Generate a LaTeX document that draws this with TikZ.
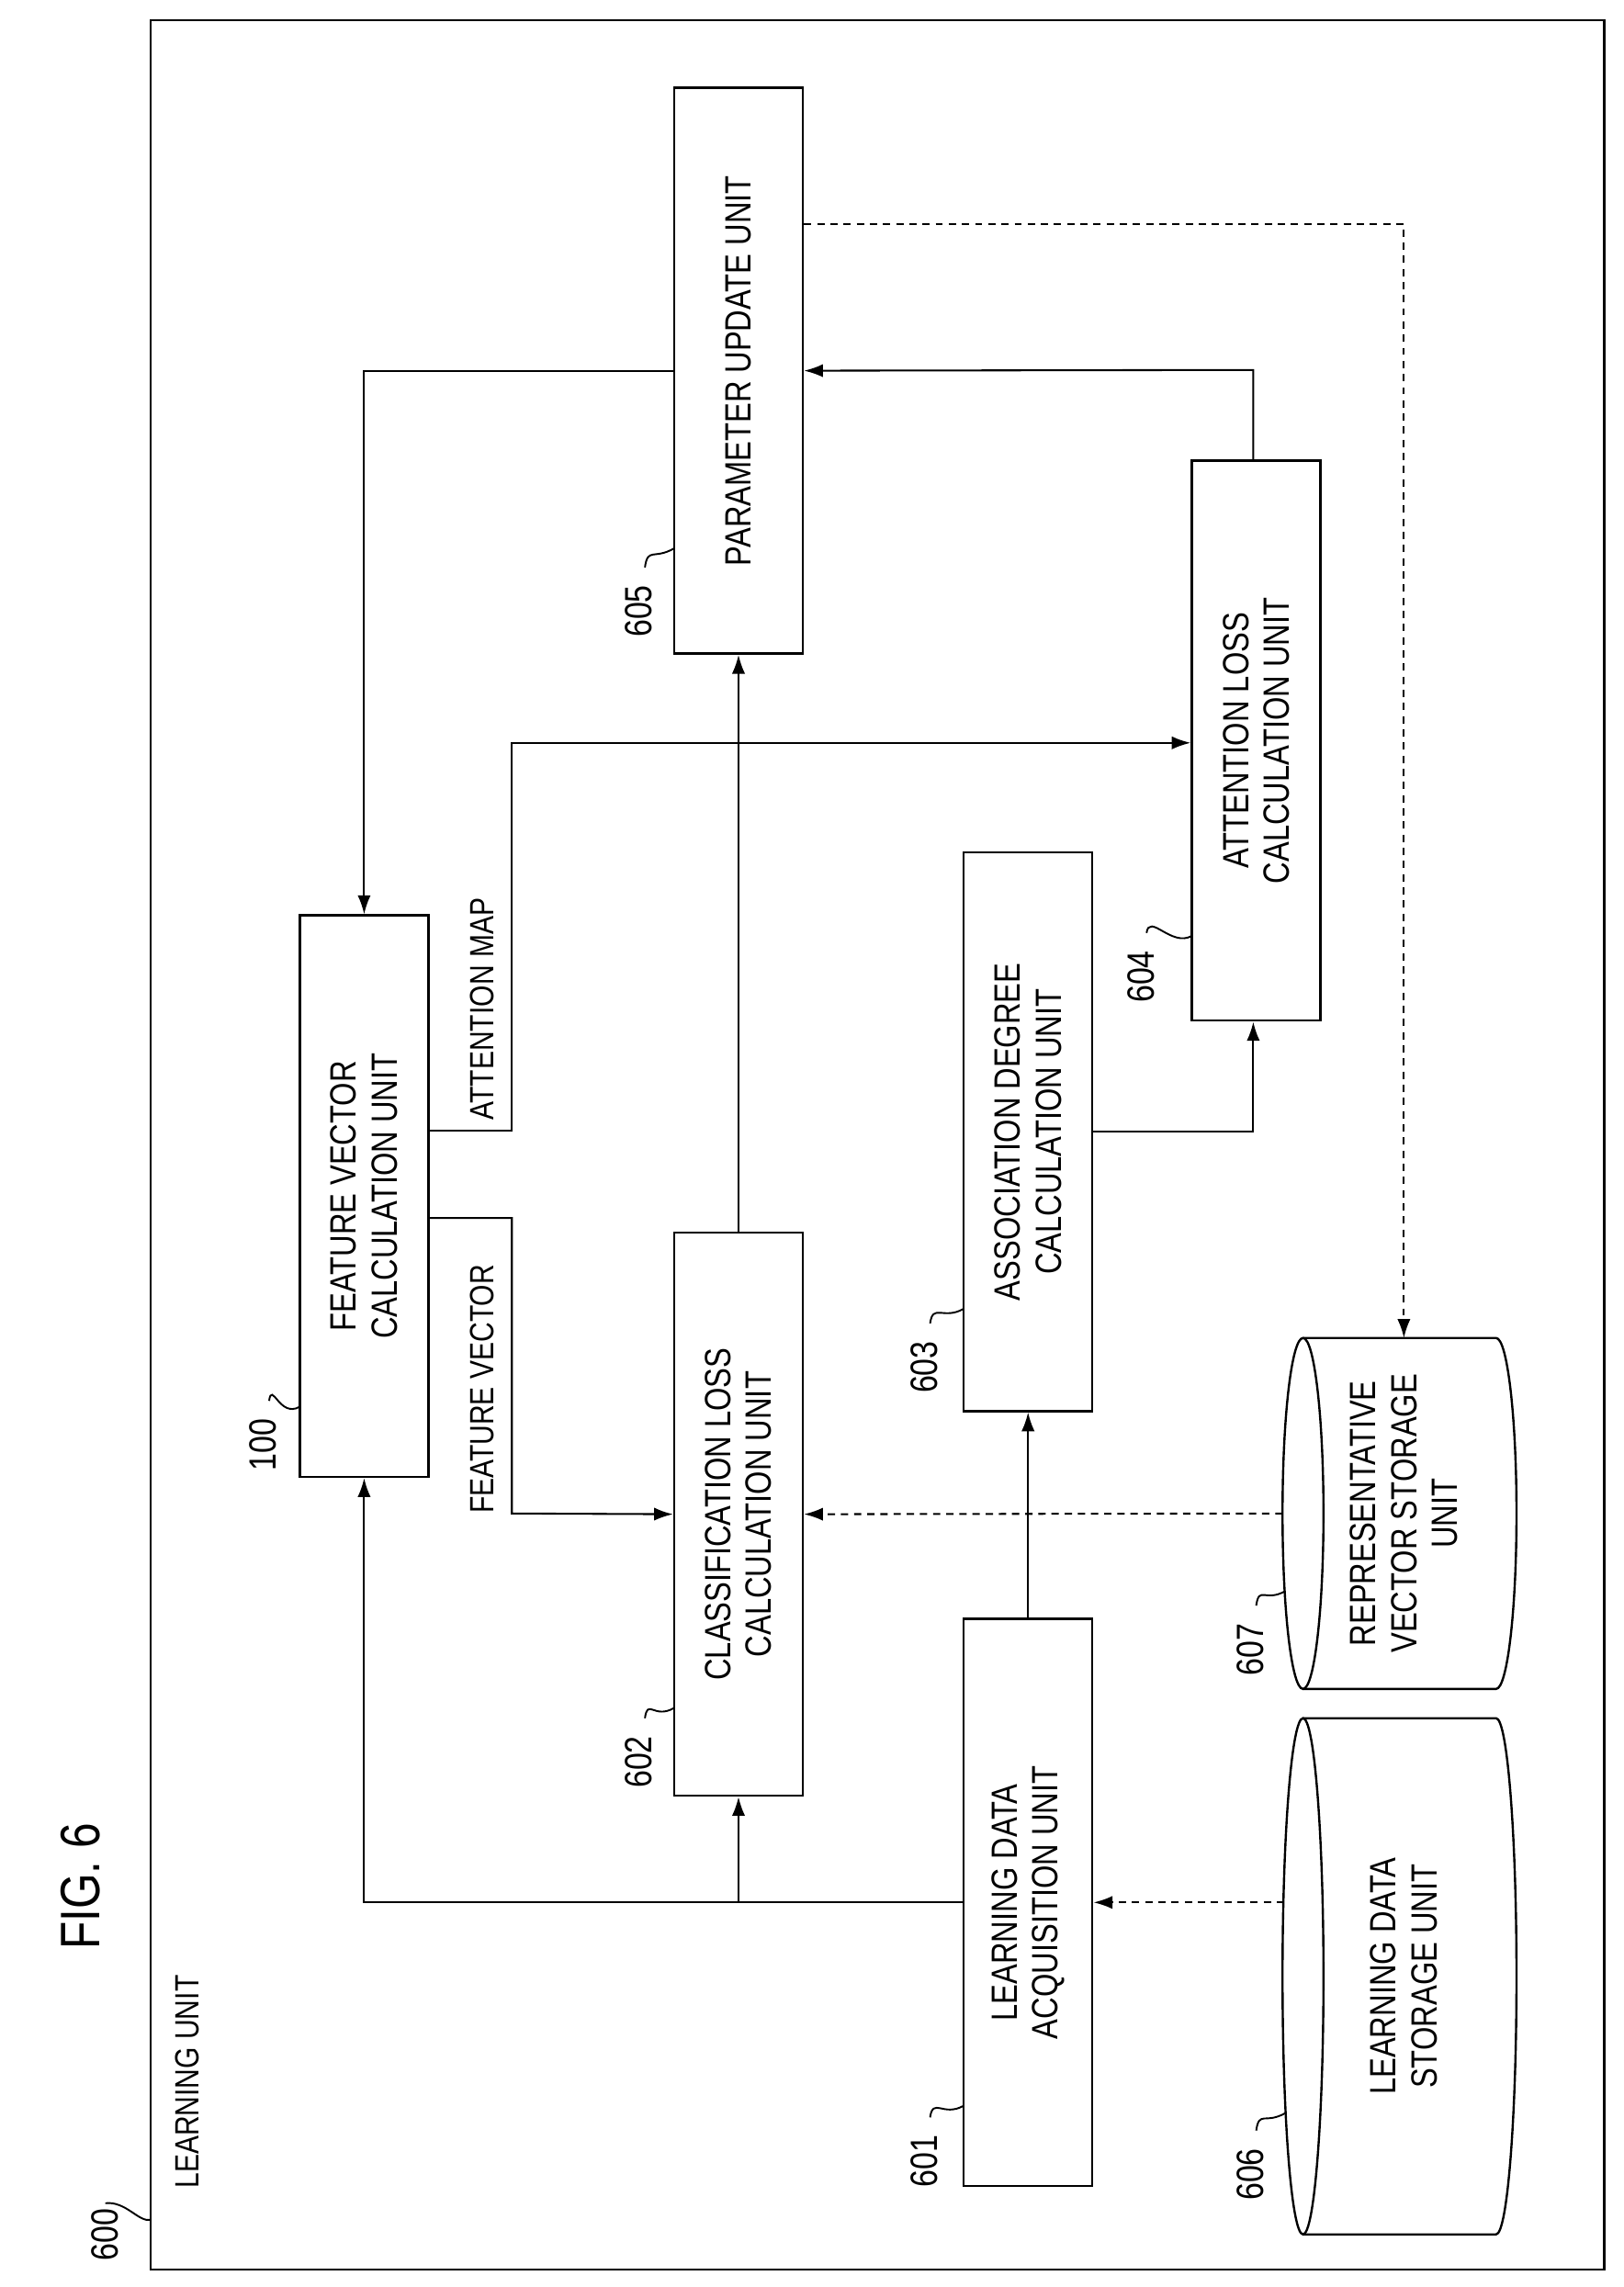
\documentclass[tikz,border=0pt]{standalone}
\usepackage{fontspec}
\setmainfont{Liberation Sans}[FakeStretch=0.82]
\usetikzlibrary{arrows.meta}
\begin{document}
\begin{tikzpicture}[x=1pt,y=-1pt,
  box/.style={draw,line width=1.5pt,inner sep=0pt},
  txt/.style={rotate=90,align=center,font=\fontsize{25}{28}\selectfont},
  lbl/.style={rotate=90,font=\fontsize{23}{26}\selectfont},
  num/.style={rotate=90,font=\fontsize{26}{28}\selectfont},
  ar/.style={line width=1.3pt,-{Latex[length=13pt,width=9pt]}},
  da/.style={ar,dash pattern=on 5pt off 4pt},
  lead/.style={line width=1.2pt}]
\useasboundingbox (0,0) rectangle (1110,1564);
\draw[line width=1.5pt] (103,14) rectangle (1097,1552);
\node[num] (n600) at (72,1528) {600};
\coordinate (f600) at (103,1518);
\draw[lead] (n600.east) .. controls (86,1505) and (95,1520) .. (f600);
\node[lbl,anchor=west] at (128,1500) {LEARNING UNIT};
\node[rotate=90,font=\fontsize{38}{40}\selectfont] at (55,1290) {FIG. 6};

% boxes
\node[box,minimum width=88pt,minimum height=387pt] (b605) at (505,253.5) {};
\node[txt] at (b605) {PARAMETER UPDATE UNIT};
\node[box,minimum width=88pt,minimum height=384pt] (b100) at (249,818) {};
\node[txt] at (b100) {FEATURE VECTOR\\CALCULATION UNIT};
\node[box,minimum width=88pt,minimum height=385pt] (b602) at (505,1035.5) {};
\node[txt] at (b602) {CLASSIFICATION LOSS\\CALCULATION UNIT};
\node[box,minimum width=88pt,minimum height=382pt] (b603) at (703,774) {};
\node[txt] at (b603) {ASSOCIATION DEGREE\\CALCULATION UNIT};
\node[box,minimum width=88pt,minimum height=383pt] (b604) at (859,506.5) {};
\node[txt] at (b604) {ATTENTION LOSS\\CALCULATION UNIT};
\node[box,minimum width=88pt,minimum height=388pt] (b601) at (703,1301) {};
\node[txt] at (b601) {LEARNING DATA\\ACQUISITION UNIT};

% cylinders
\foreach \n/\ya/\yb/\t in {c606/1175/1528/{LEARNING DATA\\STORAGE UNIT}, c607/915/1155/{REPRESENTATIVE\\VECTOR STORAGE\\UNIT}}{
  \pgfmathsetmacro\ym{(\ya+\yb)/2}
  \pgfmathsetmacro\ry{(\yb-\ya)/2}
  \pgfmathsetmacro\ka{\ym-0.552*\ry}
  \pgfmathsetmacro\kb{\ym+0.552*\ry}
  \draw[line width=1.5pt] (891,\ym) ellipse [x radius=14, y radius=\ry];
  \draw[line width=1.5pt] (891,\ya) -- (1023,\ya)
     .. controls (1030.7,\ya) and (1037,\ka) .. (1037,\ym)
     .. controls (1037,\kb) and (1030.7,\yb) .. (1023,\yb) -- (891,\yb);
  \node[txt] at (960,\ym) {\t};
  \coordinate (\n) at (877,\ym);
}
\coordinate (c607top) at (960,915);
\coordinate (c606out) at (878,1301);

% numbers
\foreach \nm/\x/\y/\bx/\by in {605/437/418/461/375, 100/180/988/205/962, 602/437/1205/461/1168, 603/632/935/659/895, 604/780/668/815/640, 601/632/1478/659/1440, 606/855/1487/879/1445, 607/855/1128/879/1088}{
  \node[num] (l\nm) at (\x,\y) {\nm};
  \coordinate (e\nm) at (\bx,\by);
  \draw[lead] (\x+4,\y-30) .. controls (\x+6,\y-44) and (\bx-14,\by+8) .. (e\nm);
}

% connectors
\draw[ar] (b605.west) -| (b100.north);
\draw[ar] (b601.west) -| (b100.south);
\draw[ar] (505,1301) -- (b602.south);
\draw[ar] (b601.north) -- (b603.south);
\draw[da] (c606out) -- (b601.east);
\draw[ar] (b602.north) -- (b605.south);
\draw[ar] (b100.east |- 0,833) -- (350,833) -- (350,1035) -- (b602.west);
\draw[ar] (b100.east |- 0,773) -- (350,773) -- (350,508) -- (b604.west |- 0,508);
\draw[ar] (b603.east) -| (b604.south -| 857,0);
\draw[ar] (b604.north -| 857,0) -- (857,253) -- (b605.east);
\draw[da] (b605.east |- 0,153) -| (c607top);
\draw[da] (c607) -- (b602.east);
\node[lbl] at (330,690) {ATTENTION MAP};
\node[lbl] at (330,950) {FEATURE VECTOR};
\end{tikzpicture}
\end{document}
